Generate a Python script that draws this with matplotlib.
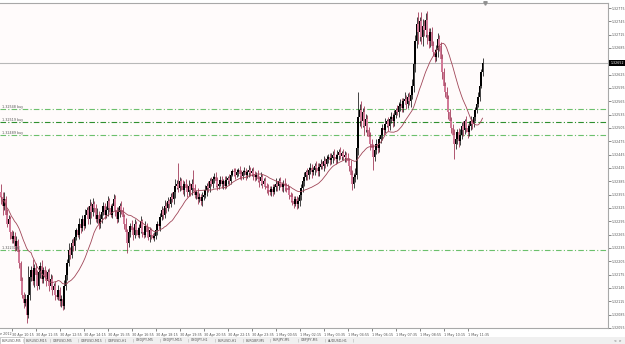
import matplotlib
matplotlib.use('Agg')
import matplotlib.pyplot as plt
from matplotlib.patches import Rectangle
import numpy as np

# ---------------- data (prices in points above 1.32000, 1 point = 0.00001) ----------------
first_open_pts = 360
closes_pts = [
    350, 330, 345, 310, 290, 300, 270, 255, 262, 240, 250, 225, 200, 160, 130, 110, 120, 85, 130, 170,
    185, 160, 190, 175, 150, 180, 195, 165, 185, 170, 160, 180, 150, 165, 140, 150, 130, 125, 140, 115,
    120, 105, 150, 175, 200, 230, 220, 245, 240, 260, 275, 265, 290, 280, 300, 285, 310, 320, 300, 330,
    315, 335, 325, 300, 310, 290, 300, 315, 330, 310, 320, 340, 325, 310, 330, 345, 320, 300, 315, 330,
    320, 305, 290, 270, 245, 270, 285, 275, 265, 290, 275, 265, 280, 295, 270, 265, 285, 270, 260, 275,
    265, 258, 262, 275, 290, 285, 305, 320, 310, 330, 325, 340, 335, 350, 345, 360, 375, 380, 370, 385,
    375, 365, 380, 370, 360, 375, 365, 380, 370, 355, 360, 345, 350, 340, 350, 355, 365, 375, 370, 385,
    380, 390, 395, 385, 375, 380, 388, 380, 385, 375, 388, 392, 385, 400, 408, 405, 400, 405, 410, 402,
    398, 405, 408, 400, 405, 410, 404, 408, 400, 395, 400, 390, 385, 395, 380, 385, 375, 370, 365, 360,
    368, 362, 372, 380, 375, 385, 378, 372, 380, 375, 370, 365, 355, 350, 340, 335, 345, 333, 340, 355,
    370, 385, 395, 405, 400, 410, 415, 405, 410, 420, 415, 408, 418, 425, 420, 430, 425, 435, 440, 432,
    438, 445, 440, 435, 445, 450, 442, 448, 440, 445, 438, 430, 420, 400, 380, 395, 400, 460, 530, 545,
    520, 540, 510, 525, 500, 485, 470, 460, 440, 455, 470, 460, 480, 490, 505, 500, 515, 520, 510, 525,
    530, 520, 535, 545, 540, 555, 560, 550, 565, 570, 560, 575, 565, 580, 600, 650, 700, 740, 720, 745,
    710, 735, 725, 748, 715, 700, 720, 690, 675, 665, 680, 705, 690, 660, 630, 600, 585, 570, 540, 520,
    505, 490, 470, 480, 495, 475, 490, 510, 500, 520, 505, 495, 510, 520, 515, 530, 545, 560, 575, 600,
    630, 652,
]
wick_up = [
    20, 10, 15, 8, 12, 10, 8, 6, 10, 8, 12, 6, 8, 5, 10, 6, 12, 8, 65, 15,
    10, 25, 8, 12, 10, 15, 8, 12, 6, 10, 15, 8, 10, 12, 8, 6, 10, 8, 12, 6,
    10, 8, 12, 6, 10, 15, 8, 10, 12, 8, 6, 10, 12, 8, 10, 6, 12, 8, 10, 15,
    8, 12, 6, 10, 15, 8, 12, 10, 8, 6, 10, 12, 8, 10, 6, 12, 10, 8, 12, 6,
    10, 8, 6, 12, 8, 10, 6, 12, 8, 10, 6, 8, 10, 12, 6, 8, 10, 6, 12, 8,
    6, 4, 8, 10, 6, 12, 8, 10, 6, 12, 8, 10, 6, 8, 12, 10, 15, 8, 46, 10,
    8, 12, 6, 10, 8, 12, 6, 10, 30, 8, 6, 10, 8, 6, 10, 8, 12, 6, 10, 8,
    10, 6, 8, 12, 10, 6, 8, 10, 6, 12, 8, 6, 10, 8, 4, 6, 10, 8, 6, 10,
    8, 6, 10, 8, 6, 12, 8, 6, 10, 8, 6, 10, 8, 12, 6, 8, 10, 6, 8, 10,
    6, 10, 8, 12, 6, 8, 10, 6, 8, 12, 6, 8, 10, 6, 8, 12, 6, 8, 10, 12,
    8, 10, 12, 6, 10, 8, 12, 10, 8, 6, 10, 12, 8, 10, 6, 12, 8, 10, 6, 8,
    10, 8, 12, 6, 10, 8, 12, 6, 10, 8, 6, 10, 8, 12, 10, 8, 15, 20, 56, 15,
    20, 10, 15, 12, 10, 8, 12, 10, 8, 12, 10, 6, 8, 12, 10, 8, 12, 6, 10, 8,
    12, 8, 10, 6, 12, 8, 10, 12, 8, 15, 10, 8, 12, 10, 15, 20, 15, 15, 25, 10,
    20, 15, 12, 16, 20, 15, 10, 12, 10, 8, 12, 14, 10, 8, 12, 10, 8, 12, 10, 8,
    10, 8, 12, 15, 8, 10, 12, 8, 10, 6, 12, 8, 10, 12, 6, 10, 8, 6, 12, 10,
    8, 10,
]
wick_dn = [
    15, 20, 10, 12, 8, 10, 15, 10, 8, 12, 10, 8, 10, 12, 8, 10, 6, 19, 8, 12,
    10, 8, 12, 6, 10, 8, 12, 10, 8, 6, 10, 8, 12, 6, 10, 8, 12, 6, 8, 10,
    12, 9, 8, 10, 12, 6, 10, 8, 12, 10, 8, 6, 10, 12, 8, 10, 6, 8, 12, 10,
    12, 8, 10, 6, 8, 12, 10, 8, 6, 10, 8, 12, 10, 6, 8, 10, 12, 8, 6, 10,
    8, 10, 12, 15, 21, 8, 10, 6, 12, 8, 10, 6, 8, 12, 10, 8, 6, 10, 8, 12,
    10, 4, 8, 6, 10, 8, 12, 6, 10, 8, 12, 6, 10, 8, 6, 10, 12, 8, 10, 6,
    10, 8, 12, 6, 10, 8, 12, 10, 6, 8, 10, 12, 6, 8, 10, 6, 8, 12, 10, 8,
    6, 10, 8, 12, 10, 8, 6, 10, 12, 8, 6, 10, 8, 6, 4, 8, 10, 6, 8, 12,
    10, 8, 6, 12, 8, 10, 6, 8, 12, 10, 8, 6, 12, 8, 10, 6, 8, 12, 10, 6,
    8, 10, 6, 8, 12, 10, 6, 8, 10, 12, 8, 6, 10, 12, 8, 10, 6, 11, 8, 10,
    12, 8, 10, 6, 12, 10, 8, 12, 6, 10, 8, 12, 10, 6, 8, 12, 10, 6, 8, 10,
    8, 12, 6, 10, 8, 12, 6, 10, 8, 12, 10, 8, 12, 10, 15, 10, 12, 10, 15, 20,
    15, 12, 20, 15, 12, 10, 15, 12, 30, 10, 8, 12, 10, 8, 12, 10, 6, 8, 12, 10,
    8, 12, 10, 8, 6, 10, 12, 8, 10, 6, 12, 10, 8, 12, 10, 15, 20, 15, 25, 20,
    15, 20, 12, 15, 20, 15, 12, 10, 8, 12, 10, 15, 12, 10, 15, 12, 10, 12, 15, 10,
    12, 10, 35, 12, 10, 12, 8, 10, 12, 8, 10, 12, 8, 10, 12, 8, 10, 6, 8, 10,
    6, 8,
]
ma_period = 21

y_tick_values = [1.32055, 1.32085, 1.32115, 1.32145, 1.32175, 1.32205, 1.32235, 1.32265,
                 1.32295, 1.32325, 1.32355, 1.32385, 1.32415, 1.32445, 1.32475, 1.32505,
                 1.32535, 1.32565, 1.32595, 1.32625, 1.32655, 1.32685, 1.32715, 1.32745, 1.32775]
x_tick_labels = ["30 Apr 10:15", "30 Apr 11:35", "30 Apr 12:55", "30 Apr 14:15", "30 Apr 15:35",
                 "30 Apr 16:55", "30 Apr 18:15", "30 Apr 19:35", "30 Apr 20:55", "30 Apr 22:15",
                 "30 Apr 23:35", "1 May 00:55", "1 May 02:15", "1 May 03:35", "1 May 04:55",
                 "1 May 06:15", "1 May 07:35", "1 May 08:55", "1 May 10:15", "1 May 11:35"]
first_date_label = "30 Apr 2012"
first_tick_bar = 7
bars_per_tick = 16
bid_price = 1.32652
order_levels = [1.32548, 1.32519, 1.32489, 1.32231]
order_labels = ["1.32548 buy", "1.32519 buy", "1.32489 buy", "1.32231 sl"]
order_colors = ['#6cc06c', '#2f8f2f', '#6cc06c', '#6cc06c']
tab_names = ["EURUSD,M5", "EURUSD,M15", "GBPUSD,M5", "GBPUSD,M15", "GBPUSD,H1", "USDJPY,M5",
             "USDJPY,M15", "USDJPY,H1", "EURUSD,H1", "EURGBP,M5", "EURJPY,M5", "GBPJPY,M5", "AUDUSD,H1"]

# ---------------- derived ----------------
closes = 1.32 + np.array(closes_pts) / 1e5
opens = np.concatenate([[1.32 + first_open_pts / 1e5], closes[:-1]])
highs = np.maximum(opens, closes) + np.array(wick_up) / 1e5
lows = np.minimum(opens, closes) - np.array(wick_dn) / 1e5
n = len(closes)
xs = np.arange(n)
ma = np.array([closes[max(0, i - ma_period + 1):i + 1].mean() for i in range(n)])

W, H = 625, 344
fig = plt.figure(figsize=(W / 100, H / 100), dpi=100)
fig.patch.set_facecolor('#ffffff')

ax_left, ax_right, ax_top, ax_bot = 0, 608, 3, 328
ax = fig.add_axes([ax_left / W, (H - ax_bot) / H, (ax_right - ax_left) / W, (ax_bot - ax_top) / H])
ax.set_facecolor('#fffbfb')

bar_px = 1.5
x0_px = 1.0
ax.set_xlim(-x0_px / bar_px, (ax_right - x0_px) / bar_px)
p_top = 1.32775 + (8 - ax_top) * 0.0003 / 13.33
p_bot = 1.32775 - (ax_bot - 8) * 0.0003 / 13.33
ax.set_ylim(p_bot, p_top)

bull = closes >= opens
# wicks
ax.vlines(xs[bull], lows[bull], highs[bull], color='#111111', lw=0.55, zorder=3)
ax.vlines(xs[~bull], lows[~bull], highs[~bull], color='#9a2a4a', lw=0.55, zorder=3)
# bodies
body_h = np.maximum(np.abs(closes - opens), 0.000012)
ax.bar(xs[bull], body_h[bull], bottom=np.minimum(opens, closes)[bull], width=0.8,
       color='#000000', lw=0, zorder=4)
ax.bar(xs[~bull], body_h[~bull], bottom=np.minimum(opens, closes)[~bull], width=0.8,
       color='#d27a98', lw=0, zorder=4)

# moving average
ax.plot(xs, ma, color='#a04658', lw=0.6, zorder=5)

# bid line
ax.axhline(bid_price, color='#b8b8b8', lw=0.8, zorder=2)

# order lines
for lvl, lab, col in zip(order_levels, order_labels, order_colors):
    ax.axhline(lvl, color=col, lw=0.8, dashes=(5, 2, 1, 2), zorder=2)
    ax.text(0.003, lvl, lab, transform=ax.get_yaxis_transform(), fontsize=2.4,
            color='#555555', va='bottom', ha='left', zorder=6)

# spines
ax.spines['left'].set_visible(False)
for s in ['top', 'right', 'bottom']:
    ax.spines[s].set_color('#a8a8a8')
    ax.spines[s].set_linewidth(0.8)

# shift marker
ax.plot([(485 - x0_px) / bar_px], [p_top], marker='v', markersize=2.5, color='#909090',
        clip_on=False, zorder=7)

# y axis on right (the label under the bid box is hidden by it)
ax.yaxis.tick_right()
ax.set_yticks(y_tick_values)
ax.set_yticklabels(["" if abs(v - bid_price) < 0.00006 else f"{v:.5f}" for v in y_tick_values])
ax.tick_params(axis='y', labelsize=2.3, length=2, width=0.5, pad=1.0, colors='#555555')

# x axis
tick_bars = [first_tick_bar + bars_per_tick * k for k in range(len(x_tick_labels))]
ax.set_xticks(tick_bars)
ax.set_xticklabels(x_tick_labels)
ax.tick_params(axis='x', labelsize=2.4, length=2.5, width=0.5, pad=1.2, colors='#555555')
for lab in ax.get_xticklabels():
    lab.set_ha('left')
fig.text(-9 / W, (H - 334) / H, first_date_label, fontsize=2.4, color='#555555',
         ha='left', va='center')

# bid price box
yb = ax.transData.transform((0, bid_price))[1] / H
fig.patches.append(Rectangle((609 / W, yb - 3 / H), 16 / W, 6 / H, transform=fig.transFigure,
                             facecolor='black', edgecolor='none', zorder=10))
fig.text(611 / W, yb, f"{bid_price:.5f}", fontsize=2.3, color='white', ha='left',
         va='center', zorder=11)

# bottom tab bar
fig.patches.append(Rectangle((0, 0), 1, 7 / H, transform=fig.transFigure,
                             facecolor='#f0f0f0', edgecolor='none', zorder=1))
fig.patches.append(Rectangle((0, 0), 24 / W, 7 / H, transform=fig.transFigure,
                             facecolor='#ffffff', edgecolor='#b0b0b0', lw=0.4, zorder=2))
tab_x = 2
for i, t in enumerate(tab_names):
    fig.text(tab_x / W, 3.5 / H, t, fontsize=2.3, color='#555555', ha='left', va='center')
    tab_x += 23.5 if i == 0 else 27.5
    fig.text((tab_x - 3) / W, 3.5 / H, "|", fontsize=2.3, color='#888888', ha='left', va='center')
fig.text(614 / W, 3.5 / H, "<  >", fontsize=2.3, color='#555555', ha='left', va='center')

fig.savefig('out.png', dpi=100)
